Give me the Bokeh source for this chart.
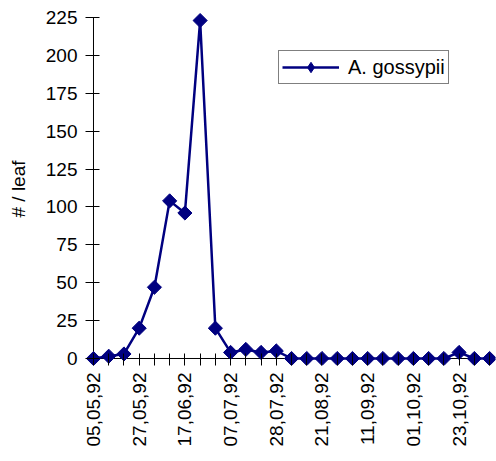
import math
from bokeh.plotting import figure
from bokeh.models import Range1d, FixedTicker, Legend, LegendItem, ColumnDataSource
from bokeh.embed import file_html
from bokeh.resources import INLINE

# ---- data ----
date_labels = ["05,05,92", "", "", "27,05,92", "", "", "17,06,92", "", "",
               "07,07,92", "", "", "28,07,92", "", "", "21,08,92", "", "",
               "11,09,92", "", "", "01,10,92", "", "", "23,10,92", "", ""]
gossypii = [0, 1.5, 3, 20, 47, 104, 96, 223, 20, 4, 6, 4, 5, 0, 0, 0, 0, 0,
            0, 0, 0, 0, 0, 0, 4, 0, 0]
y_ticks = [0, 25, 50, 75, 100, 125, 150, 175, 200, 225]
series_name = "A. gossypii"

x_idx = list(range(len(gossypii)))
src = ColumnDataSource(dict(x=x_idx, y=gossypii))

NAVY = "#000080"
FONT = "Liberation Sans"
FS = "19px"

p = figure(frame_width=410, frame_height=353, output_backend="svg",
           toolbar_location=None,
           x_range=Range1d(-0.525, 26.39), y_range=Range1d(-4.62, 228.3),
           min_border_left=85, min_border_right=1, min_border_top=12,
           min_border_bottom=96)
p.outline_line_color = None
p.xgrid.visible = False
p.ygrid.visible = False
p.background_fill_color = "white"
p.border_fill_color = "white"

# axis lines at the data origin (drawn through the data scales)
p.segment(x0=[x_idx[0], x_idx[0]], y0=[y_ticks[0], y_ticks[0]],
          x1=[x_idx[0], x_idx[-1]], y1=[y_ticks[-1], y_ticks[0]],
          line_color="black", line_width=1)

line = p.line("x", "y", source=src, line_color=NAVY, line_width=2.5)
marks = p.scatter("x", "y", source=src, marker="square", angle=math.pi / 4,
                  size=10, fill_color=NAVY, line_color=NAVY)
# proxy glyph used only for the legend swatch (no visible data point)
legend_mark = p.scatter(x=[float("nan")], y=[float("nan")], marker="diamond",
                        size=17, fill_color=NAVY, line_color=NAVY)

# y axis
ya = p.yaxis[0]
ya.ticker = FixedTicker(ticks=y_ticks)
ya.axis_line_color = None
ya.minor_tick_line_color = None
ya.major_tick_in = 14
ya.major_tick_out = 0
ya.major_tick_line_color = "black"
ya.major_label_text_font = FONT
ya.major_label_text_font_size = FS
ya.major_label_text_color = "black"
ya.major_label_standoff = 8
ya.axis_label = "# / leaf"
ya.axis_label_text_font = FONT
ya.axis_label_text_font_size = FS
ya.axis_label_text_font_style = "normal"
ya.axis_label_text_color = "black"
ya.axis_label_standoff = 14

# x axis
xa = p.xaxis[0]
xa.ticker = FixedTicker(ticks=x_idx)
xa.major_label_overrides = {i: lab for i, lab in enumerate(date_labels)}
xa.axis_line_color = None
xa.minor_tick_line_color = None
xa.major_tick_in = 12
xa.major_tick_out = 0
xa.major_tick_line_color = "black"
xa.major_label_orientation = math.pi / 2
xa.major_label_text_font = FONT
xa.major_label_text_font_size = FS
xa.major_label_text_color = "black"
xa.major_label_standoff = 7

legend = Legend(items=[LegendItem(label=series_name,
                                  renderers=[line, legend_mark])],
                location=(193, 281), orientation="vertical")
legend.label_text_font = FONT
legend.label_text_font_size = "20px"
legend.label_text_color = "black"
legend.glyph_width = 57
legend.glyph_height = 26
legend.label_standoff = 9
legend.padding = 3
legend.margin = 0
legend.spacing = 0
legend.border_line_color = "black"
legend.border_line_width = 1
legend.background_fill_alpha = 1
p.add_layout(legend)

open("out.html", "w").write(file_html(p, INLINE))
